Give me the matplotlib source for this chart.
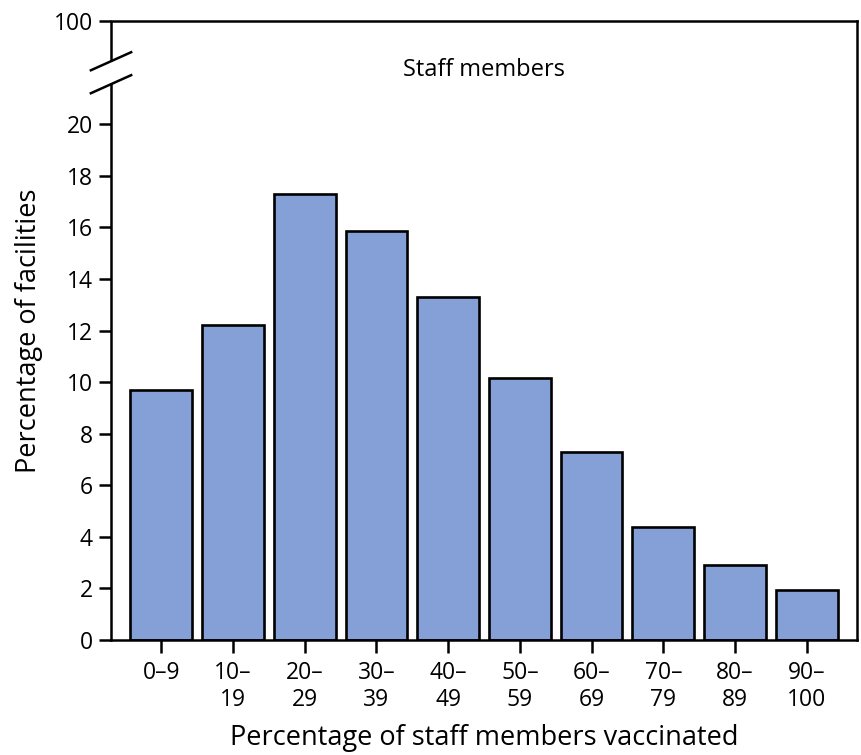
import matplotlib
matplotlib.use("Agg")
import matplotlib.pyplot as plt
import matplotlib.transforms as mtransforms

# Data
categories = ["0\u20139", "10\u2013\n19", "20\u2013\n29", "30\u2013\n39", "40\u2013\n49",
              "50\u2013\n59", "60\u2013\n69", "70\u2013\n79", "80\u2013\n89", "90\u2013\n100"]
values = [9.7, 12.2, 17.3, 15.85, 13.3, 10.15, 7.3, 4.4, 2.9, 1.95]
ytick_vals = [0, 2, 4, 6, 8, 10, 12, 14, 16, 18, 20, 24]
ytick_labels = ["0", "2", "4", "6", "8", "10", "12", "14", "16", "18", "20", "100"]

plt.rcParams["font.family"] = ["Open Sans", "DejaVu Sans"]

fig = plt.figure(figsize=(8.62, 7.55), dpi=100)
ax = fig.add_axes([0.1288, 0.1523, 0.8654, 0.8199])

x = list(range(len(categories)))
ax.bar(x, values, width=0.86, color="#85a0d6", edgecolor="black", linewidth=1.9)

ax.set_xlim(-0.7, 9.7)
ax.set_ylim(0, 24)
ax.set_xticks(x)
ax.set_xticklabels(categories, fontsize=16.5, linespacing=1.2)
ax.set_yticks(ytick_vals)
ax.set_yticklabels(ytick_labels, fontsize=16.5)
ax.tick_params(axis="both", direction="out", length=9, width=1.8, pad=4)
ax.tick_params(axis="x", pad=6)

for side in ["left", "right", "top", "bottom"]:
    ax.spines[side].set_linewidth(1.8)

# broken y axis
ax.spines["left"].set_bounds(0, 21.55)
trans = mtransforms.blended_transform_factory(ax.transAxes, ax.transData)
ax.plot([0, 0], [22.44, 24], color="black", linewidth=1.8, transform=trans,
        clip_on=False, solid_capstyle="butt")
for yc in [22.44, 21.55]:
    ax.plot([-0.027, 0.027], [yc - 0.35, yc + 0.35], color="black", linewidth=1.8,
            transform=trans, clip_on=False)

ax.text(4.5, 22.1, "Staff members", ha="center", va="center", fontsize=17)

ax.set_xlabel("Percentage of staff members vaccinated", fontsize=19.5, labelpad=8)
ax.set_ylabel("Percentage of facilities", fontsize=19.5, labelpad=8)

fig.savefig("out.png", dpi=100)
